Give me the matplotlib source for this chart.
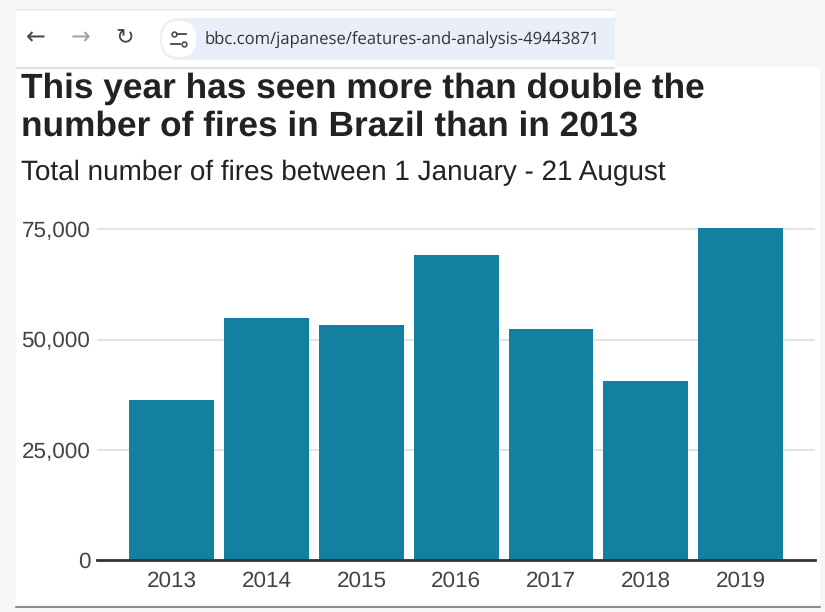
import matplotlib
matplotlib.use("Agg")
import matplotlib.pyplot as plt
from matplotlib.patches import FancyBboxPatch, Rectangle
from matplotlib.lines import Line2D
from matplotlib.transforms import Affine2D

years = ["2013", "2014", "2015", "2016", "2017", "2018", "2019"]
fires = [36300, 55000, 53300, 69200, 52400, 40600, 75300]
y_ticks = [0, 25000, 50000, 75000]
title_text = "This year has seen more than double the\nnumber of fires in Brazil than in 2013"
subtitle_text = "Total number of fires between 1 January - 21 August"
url_text = "bbc.com/japanese/features-and-analysis-49443871"

W, H = 825, 612
plt.rcParams['font.family'] = ['Liberation Sans', 'DejaVu Sans']
plt.rcParams['text.hinting'] = 'none'
fig = plt.figure(figsize=(W / 100, H / 100), dpi=100, facecolor="#f6f6f6")
px = Affine2D().scale(1 / W, -1 / H).translate(0, 1) + fig.transFigure

# Browser chrome and page panels
fig.add_artist(Rectangle((16, 10), 599, 57, transform=px, fc="white", ec="none"))
fig.add_artist(Rectangle((16, 9), 599, 1.5, transform=px, fc="#e6ecf6", ec="none"))
fig.add_artist(Rectangle((16, 67), 804, 538, transform=px, fc="white", ec="none"))
fig.add_artist(Rectangle((16, 66.5), 599, 2, transform=px, fc="#e2e2e2", ec="none"))
fig.add_artist(Rectangle((180, 18), 435, 42, transform=px, fc="#e9eff8", ec="none"))
fig.add_artist(FancyBboxPatch((160, 18), 60, 42, boxstyle="round,pad=0,rounding_size=20",
                              transform=px, fc="#e9eff8", ec="none"))
fig.add_artist(FancyBboxPatch((162, 21), 34, 36, boxstyle="round,pad=0,rounding_size=17",
                              transform=px, fc="white", ec="none"))
fig.text(36, 38, "\u2190", transform=px, family="DejaVu Sans", fontsize=17, color="#444444", ha="center", va="center")
fig.text(81, 38, "\u2192", transform=px, family="DejaVu Sans", fontsize=17, color="#a0a0a0", ha="center", va="center")
fig.text(125, 38, "\u21bb", transform=px, family="DejaVu Sans", fontsize=16, color="#444444", ha="center", va="center")
for x0, x1, yy in [(177, 186, 34), (171, 180, 44)]:
    fig.add_artist(Line2D([x0, x1], [yy, yy], transform=px, color="#444444", lw=1.3))
fig.add_artist(Line2D([173.5], [34], transform=px, marker="o", ms=3.5, mfc="none", mec="#444444", mew=1.1))
fig.add_artist(Line2D([183.5], [44], transform=px, marker="o", ms=3.5, mfc="none", mec="#444444", mew=1.1))
fig.text(205, 39.5, url_text, transform=px, family="Open Sans", fontsize=12.0, color="#333333", ha="left", va="center")

# Headings
fig.text(21, 107.5, title_text, transform=px, fontsize=25.4, fontweight="bold", color="#222222",
         ha="left", va="center", linespacing=1.2)
fig.text(21, 172.5, subtitle_text, transform=px, fontsize=20.1, color="#222222", ha="left", va="center")

# Chart
ax = fig.add_axes([97 / W, 1 - 560 / H, (815 - 97) / W, (560 - 222) / H], facecolor="none", zorder=5)
ax.bar(years, fires, width=0.895, color="#1380a1", zorder=2)
ax.set_xlim(-0.79, 6.785)
ax.set_ylim(0, 338 / 110.2 * 25000)
ax.set_yticks(y_ticks, [f"{v:,}" for v in y_ticks])
ax.grid(axis="y", color="#e0e0e0", lw=1.3, zorder=1)
ax.set_axisbelow(True)
for s in ["top", "left", "right"]:
    ax.spines[s].set_visible(False)
ax.spines["bottom"].set_color("#333333")
ax.spines["bottom"].set_linewidth(2)
ax.spines["bottom"].set_zorder(3)
ax.tick_params(axis="both", length=0, labelsize=16.2, labelcolor="#444444")
ax.tick_params(axis="y", pad=4.8)
ax.tick_params(axis="x", pad=7.7)

# Bottom rule
fig.add_artist(Line2D([16, 820], [606.5, 606.5], transform=px, color="#777777", lw=1.2))

fig.savefig("out.png", dpi=100, facecolor=fig.get_facecolor())
